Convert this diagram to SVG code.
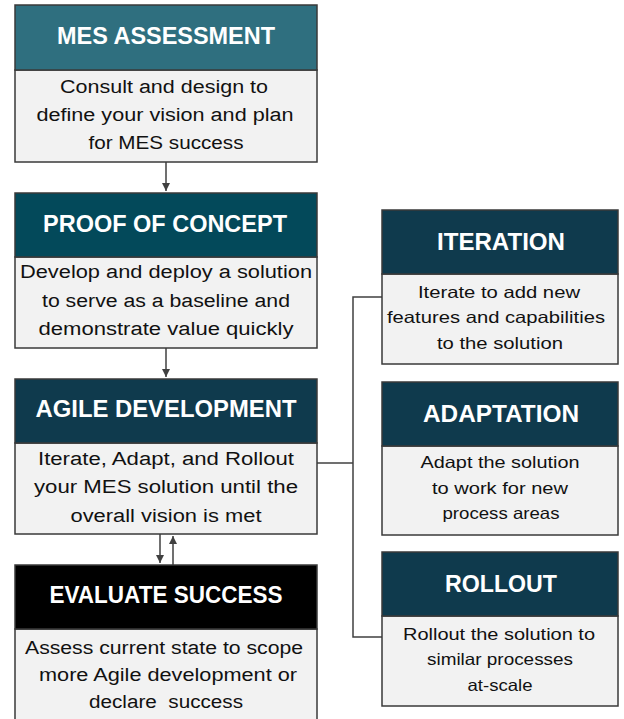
<svg xmlns="http://www.w3.org/2000/svg" width="624" height="719" viewBox="0 0 624 719">
<style>
.hd{stroke:#3a3a3a;stroke-width:1.5}
.bd{fill:#f2f2f2;stroke:#3a3a3a;stroke-width:1.5}
.ht{font-family:"Liberation Sans",Arial,sans-serif;font-weight:bold;font-size:24px;fill:#ffffff;text-anchor:middle}
.bt{font-family:"Liberation Sans",Arial,sans-serif;font-size:18px;fill:#111111;text-anchor:middle}
.bs{font-family:"Liberation Sans",Arial,sans-serif;font-size:16.5px;fill:#111111;text-anchor:middle}
.cn{fill:none;stroke:#404040;stroke-width:1.5}
</style>
<defs>
<marker id="ah" viewBox="0 0 10 10" refX="10" refY="5" markerWidth="8" markerHeight="8" markerUnits="userSpaceOnUse" orient="auto">
<path d="M0,0 L10,5 L0,10 z" fill="#404040"/>
</marker>
</defs>
<rect width="624" height="719" fill="#ffffff"/>
<g id="connectors">
<line class="cn" x1="166" y1="162" x2="166" y2="191" marker-end="url(#ah)"/>
<line class="cn" x1="166" y1="348" x2="166" y2="377" marker-end="url(#ah)"/>
<line class="cn" x1="160" y1="534" x2="160" y2="563" marker-end="url(#ah)"/>
<line class="cn" x1="173" y1="565" x2="173" y2="536" marker-end="url(#ah)"/>
<polyline class="cn" points="317,463 353,463"/>
<polyline class="cn" points="382,297 353,297 353,637 382,637"/>
</g>
<g id="mes-assessment">
<rect class="bd" x="15" y="70" width="302" height="92"/>
<rect class="hd" x="15" y="5" width="302" height="65" fill="#2f6f7f"/>
<text class="ht" x="166" y="44" textLength="218" lengthAdjust="spacingAndGlyphs">MES ASSESSMENT</text>
<text class="bt" x="164" y="93" textLength="208" lengthAdjust="spacingAndGlyphs">Consult and design to</text>
<text class="bt" x="165" y="121" textLength="257" lengthAdjust="spacingAndGlyphs">define your vision and plan</text>
<text class="bt" x="166" y="149" textLength="155" lengthAdjust="spacingAndGlyphs">for MES success</text>
</g>
<g id="proof-of-concept">
<rect class="bd" x="15" y="257" width="302" height="91"/>
<rect class="hd" x="15" y="193" width="302" height="64" fill="#03495a"/>
<text class="ht" x="165" y="232" textLength="244" lengthAdjust="spacingAndGlyphs">PROOF OF CONCEPT</text>
<text class="bt" x="166" y="278" textLength="292" lengthAdjust="spacingAndGlyphs">Develop and deploy a solution</text>
<text class="bt" x="166" y="307" textLength="248" lengthAdjust="spacingAndGlyphs">to serve as a baseline and</text>
<text class="bt" x="166" y="335" textLength="255" lengthAdjust="spacingAndGlyphs">demonstrate value quickly</text>
</g>
<g id="agile-development">
<rect class="bd" x="15" y="443" width="302" height="91"/>
<rect class="hd" x="15" y="379" width="302" height="64" fill="#0f3a4d"/>
<text class="ht" x="166" y="417" textLength="261" lengthAdjust="spacingAndGlyphs">AGILE DEVELOPMENT</text>
<text class="bt" x="166" y="465" textLength="256" lengthAdjust="spacingAndGlyphs">Iterate, Adapt, and Rollout</text>
<text class="bt" x="166" y="493" textLength="264" lengthAdjust="spacingAndGlyphs">your MES solution until the</text>
<text class="bt" x="166" y="522" textLength="191" lengthAdjust="spacingAndGlyphs">overall vision is met</text>
</g>
<g id="evaluate-success">
<rect class="bd" x="15" y="629" width="302" height="96"/>
<rect class="hd" x="15" y="565" width="302" height="64" fill="#000000"/>
<text class="ht" x="166" y="603" textLength="233" lengthAdjust="spacingAndGlyphs">EVALUATE SUCCESS</text>
<text class="bt" x="164" y="654" textLength="278" lengthAdjust="spacingAndGlyphs">Assess current state to scope</text>
<text class="bt" x="168" y="681" textLength="258" lengthAdjust="spacingAndGlyphs">more Agile development or</text>
<text class="bt" x="166" y="708" textLength="154" lengthAdjust="spacingAndGlyphs" xml:space="preserve">declare  success</text>
</g>
<g id="iteration">
<rect class="bd" x="382" y="274" width="236" height="90"/>
<rect class="hd" x="382" y="210" width="236" height="64" fill="#0f3a4d"/>
<text class="ht" x="501" y="250" textLength="128" lengthAdjust="spacingAndGlyphs">ITERATION</text>
<text class="bs" x="499" y="298" textLength="162" lengthAdjust="spacingAndGlyphs">Iterate to add new</text>
<text class="bs" x="496" y="323" textLength="218" lengthAdjust="spacingAndGlyphs">features and capabilities</text>
<text class="bs" x="500" y="349" textLength="126" lengthAdjust="spacingAndGlyphs">to the solution</text>
</g>
<g id="adaptation">
<rect class="bd" x="382" y="446" width="236" height="89"/>
<rect class="hd" x="382" y="382" width="236" height="64" fill="#0f3a4d"/>
<text class="ht" x="501" y="422" textLength="156" lengthAdjust="spacingAndGlyphs">ADAPTATION</text>
<text class="bs" x="500" y="468" textLength="159" lengthAdjust="spacingAndGlyphs">Adapt the solution</text>
<text class="bs" x="500" y="494" textLength="136" lengthAdjust="spacingAndGlyphs">to work for new</text>
<text class="bs" x="501" y="519" textLength="117" lengthAdjust="spacingAndGlyphs">process areas</text>
</g>
<g id="rollout">
<rect class="bd" x="382" y="616" width="236" height="90"/>
<rect class="hd" x="382" y="552" width="236" height="64" fill="#0f3a4d"/>
<text class="ht" x="501" y="592" textLength="112" lengthAdjust="spacingAndGlyphs">ROLLOUT</text>
<text class="bs" x="499" y="640" textLength="192" lengthAdjust="spacingAndGlyphs">Rollout the solution to</text>
<text class="bs" x="500" y="665" textLength="146" lengthAdjust="spacingAndGlyphs">similar processes</text>
<text class="bs" x="500" y="691" textLength="65" lengthAdjust="spacingAndGlyphs">at-scale</text>
</g>
</svg>
